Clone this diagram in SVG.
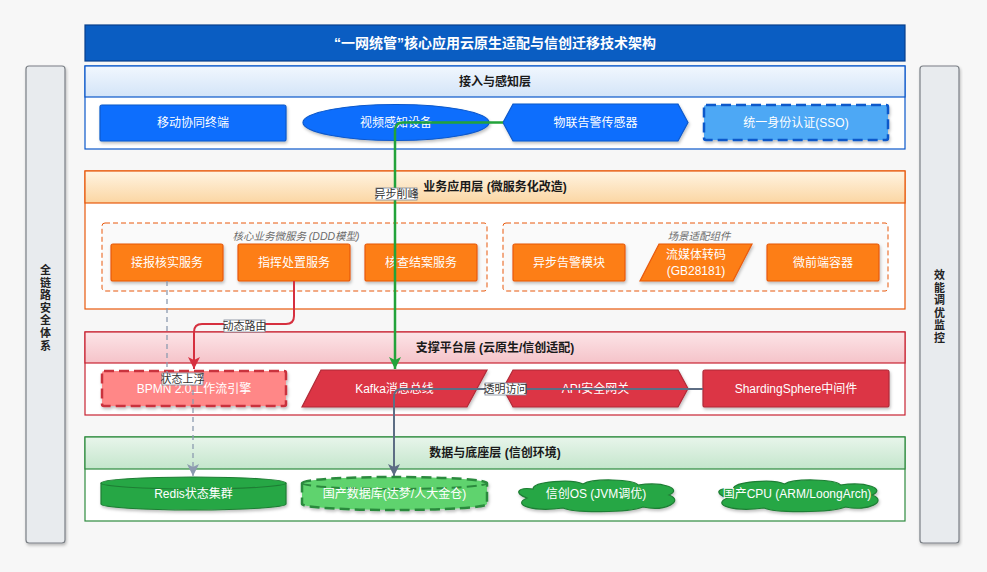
<svg xmlns="http://www.w3.org/2000/svg" width="987" height="572" viewBox="0 0 987 572">
<defs>
<linearGradient id="gBlue" x1="0" y1="0" x2="0" y2="1"><stop offset="0" stop-color="#f1f7fe"/><stop offset="1" stop-color="#d3e4f8"/></linearGradient>
<linearGradient id="gOrange" x1="0" y1="0" x2="0" y2="1"><stop offset="0" stop-color="#fff4e2"/><stop offset="1" stop-color="#fbd6a3"/></linearGradient>
<linearGradient id="gRed" x1="0" y1="0" x2="0" y2="1"><stop offset="0" stop-color="#fce4e7"/><stop offset="1" stop-color="#f5c3c9"/></linearGradient>
<linearGradient id="gGreen" x1="0" y1="0" x2="0" y2="1"><stop offset="0" stop-color="#e8f5eb"/><stop offset="1" stop-color="#c4e6cc"/></linearGradient>
<filter id="sh" x="-10%" y="-20%" width="120%" height="150%"><feDropShadow dx="1" dy="2" stdDeviation="1.5" flood-color="#000" flood-opacity="0.25"/></filter>
<marker id="aGreen" markerWidth="14" markerHeight="12" refX="12" refY="6" orient="auto" markerUnits="userSpaceOnUse"><path d="M0,0 L12,6 L0,12 L3,6 Z" fill="#22a33a"/></marker>
<marker id="aRed" markerWidth="14" markerHeight="12" refX="12" refY="6" orient="auto" markerUnits="userSpaceOnUse"><path d="M0,0 L12,6 L0,12 L3,6 Z" fill="#d6303f"/></marker>
<marker id="aGray" markerWidth="14" markerHeight="12" refX="12" refY="6" orient="auto" markerUnits="userSpaceOnUse"><path d="M0,0 L12,6 L0,12 L3,6 Z" fill="#8d9bb0"/></marker>
<marker id="aSlate" markerWidth="14" markerHeight="12" refX="12" refY="6" orient="auto" markerUnits="userSpaceOnUse"><path d="M0,0 L12,6 L0,12 L3,6 Z" fill="#5d6d84"/></marker>
</defs>
<style>
text{font-family:"Liberation Sans","Noto Sans CJK SC",sans-serif;}
.nt{fill:#fff;font-size:12px;text-anchor:middle;dominant-baseline:central;}
.hd{fill:#1a1a1a;font-size:12px;font-weight:bold;text-anchor:middle;dominant-baseline:central;}
.side{fill:#e8ebee;stroke:#7a7f85;stroke-width:1.2;}
.st{fill:#222;font-size:11px;font-weight:bold;text-anchor:middle;}
.body{fill:#fff;}
.blue{fill:#0d6efd;stroke:#0a58ca;stroke-width:1.2;}
.org{fill:#fd7e14;stroke:#e8590c;stroke-width:1.2;}
.red{fill:#dc3545;stroke:#b02a37;stroke-width:1.2;}
.grn{fill:#28a745;stroke:#1e7e34;stroke-width:1.2;}
.grp{fill:#fafafa;stroke:#e8590c;stroke-width:1;stroke-dasharray:5 3;}
.gl{fill:#6b6b6b;font-size:10.5px;font-style:italic;text-anchor:middle;dominant-baseline:central;}
.el{fill:#333;font-size:11px;text-anchor:middle;dominant-baseline:central;}
.lb{fill:#fff;stroke:#7d8797;stroke-width:0.8;}
</style>
<rect x="0" y="0" width="987" height="572" fill="#f7f7f7"/>

<g id="title">
<rect x="85" y="25" width="820" height="36" fill="#0a5dc2" stroke="#073f8c" stroke-width="1.2"/>
<text x="495" y="43" fill="#fff" font-size="14" font-weight="bold" text-anchor="middle" dominant-baseline="central">“一网统管”核心应用云原生适配与信创迁移技术架构</text>
</g>

<g id="security">
<rect class="side" x="26" y="66" width="39" height="477" rx="3" filter="url(#sh)"/>
<text class="st" x="45.5" y="274"><tspan x="45.5">全</tspan><tspan x="45.5" dy="12.6">链</tspan><tspan x="45.5" dy="12.6">路</tspan><tspan x="45.5" dy="12.6">安</tspan><tspan x="45.5" dy="12.6">全</tspan><tspan x="45.5" dy="12.6">体</tspan><tspan x="45.5" dy="12.6">系</tspan></text>
</g>
<g id="monitor">
<rect class="side" x="920" y="66" width="39" height="477" rx="3" filter="url(#sh)"/>
<text class="st" x="939.5" y="279"><tspan x="939.5">效</tspan><tspan x="939.5" dy="12.6">能</tspan><tspan x="939.5" dy="12.6">调</tspan><tspan x="939.5" dy="12.6">优</tspan><tspan x="939.5" dy="12.6">监</tspan><tspan x="939.5" dy="12.6">控</tspan></text>
</g>

<g id="layer-access">
<rect class="body" x="85" y="66" width="820" height="83" stroke="#0a58ca" stroke-width="1.2"/>
<rect x="85" y="66" width="820" height="31" fill="url(#gBlue)" stroke="#0a58ca" stroke-width="1.2"/>
<text class="hd" x="495" y="81.5">接入与感知层</text>
</g>
<g id="layer-app">
<rect class="body" x="85" y="171" width="820" height="138" stroke="#e8590c" stroke-width="1.2"/>
<rect x="85" y="171" width="820" height="32" fill="url(#gOrange)" stroke="#e8590c" stroke-width="1.2"/>
<text class="hd" x="495" y="187">业务应用层 (微服务化改造)</text>
</g>
<g id="layer-platform">
<rect class="body" x="85" y="332" width="820" height="83" stroke="#c82333" stroke-width="1.2"/>
<rect x="85" y="332" width="820" height="31" fill="url(#gRed)" stroke="#c82333" stroke-width="1.2"/>
<text class="hd" x="495" y="347.5">支撑平台层 (云原生/信创适配)</text>
</g>
<g id="layer-data">
<rect class="body" x="85" y="437" width="820" height="84" stroke="#2e8b3e" stroke-width="1.2"/>
<rect x="85" y="437" width="820" height="32" fill="url(#gGreen)" stroke="#2e8b3e" stroke-width="1.2"/>
<text class="hd" x="495" y="453">数据与底座层 (信创环境)</text>
</g>

<g id="group-core">
<rect class="grp" x="102" y="223" width="385" height="68" rx="3"/>
<text class="gl" x="296" y="236">核心业务微服务 (DDD模型)</text>
</g>
<g id="group-scene">
<rect class="grp" x="503" y="223" width="385" height="68" rx="3"/>
<text class="gl" x="699" y="236">场景适配组件</text>
</g>

<g id="n-mobile"><rect class="blue" x="100" y="105" width="186" height="36" rx="2" filter="url(#sh)"/><text class="nt" x="193" y="123">移动协同终端</text></g>
<g id="n-video"><ellipse class="blue" cx="396" cy="122.5" rx="93" ry="18" filter="url(#sh)"/><text class="nt" x="396" y="123">视频感知设备</text></g>
<g id="n-iot"><polygon class="blue" points="513,104 678,104 688,122.5 678,141 513,141 503,122.5" filter="url(#sh)"/><text class="nt" x="595.5" y="123">物联告警传感器</text></g>
<g id="n-sso"><rect x="704" y="105" width="184" height="35" rx="2" fill="#4ea8f5" stroke="#0a58ca" stroke-width="2.5" stroke-dasharray="10 5" filter="url(#sh)"/><text class="nt" x="796" y="123">统一身份认证(SSO)</text></g>

<g id="n-report"><rect class="org" x="111" y="244" width="112" height="37" rx="2" filter="url(#sh)"/><text class="nt" x="167" y="262.5">接报核实服务</text></g>
<g id="n-command"><rect class="org" x="238" y="244" width="112" height="37" rx="2" filter="url(#sh)"/><text class="nt" x="294" y="262.5">指挥处置服务</text></g>
<g id="n-check"><rect class="org" x="365" y="244" width="112" height="37" rx="2" filter="url(#sh)"/><text class="nt" x="421" y="262.5">核查结案服务</text></g>
<g id="n-alarm"><rect class="org" x="513" y="244" width="112" height="37" rx="2" filter="url(#sh)"/><text class="nt" x="569" y="262.5">异步告警模块</text></g>
<g id="n-stream"><polygon class="org" points="659,244 752,244 733,281 640,281" filter="url(#sh)"/><text class="nt" x="696" y="255">流媒体转码</text><text class="nt" x="696" y="271">(GB28181)</text></g>
<g id="n-micro"><rect class="org" x="767" y="244" width="112" height="37" rx="2" filter="url(#sh)"/><text class="nt" x="823" y="262.5">微前端容器</text></g>

<g id="n-bpmn"><rect x="102" y="371" width="184" height="35" rx="2" fill="#ff8787" stroke="#c9303e" stroke-width="2.5" stroke-dasharray="10 5" filter="url(#sh)"/><text class="nt" x="194" y="389">BPMN 2.0工作流引擎</text></g>
<g id="n-kafka"><polygon class="red" points="321,370 487,370 467,407 302,407" filter="url(#sh)"/><text class="nt" x="394.5" y="389">Kafka消息总线</text></g>
<g id="n-api"><polygon class="red" points="513,370 678,370 688,388.5 678,407 513,407 503,388.5" filter="url(#sh)"/><text class="nt" x="595.5" y="389">API安全网关</text></g>
<g id="n-sharding"><rect class="red" x="703" y="370" width="186" height="37" rx="2" filter="url(#sh)"/><text class="nt" x="796" y="389">ShardingSphere中间件</text></g>

<g id="n-redis"><path class="grn" d="M101,483 A92.5,6 0 0 1 286,483 L286,504 A92.5,6 0 0 1 101,504 Z" filter="url(#sh)"/><path d="M101,483 A92.5,6 0 0 0 286,483" fill="none" stroke="#1e7e34" stroke-width="1.2"/><text class="nt" x="193.5" y="494">Redis状态集群</text></g>
<g id="n-db"><path d="M302,483 A92.5,6 0 0 1 487,483 L487,504 A92.5,6 0 0 1 302,504 Z" fill="#5fd36e" stroke="#2b8a3e" stroke-width="2.5" stroke-dasharray="10 5" filter="url(#sh)"/><path d="M302,483 A92.5,6 0 0 0 487,483" fill="none" stroke="#2b8a3e" stroke-width="2" stroke-dasharray="10 5"/><text class="nt" x="394.5" y="494">国产数据库(达梦/人大金仓)</text></g>
<g id="n-os"><path class="grn" transform="translate(513,479)" d="M20,10 C20,2 60,0 70,5 C80,-1 120,0 125,6 C150,2 170,10 156,16 C172,22 152,33 130,28 C115,34 60,34 50,29 C20,33 -2,26 14,19 C0,14 5,8 20,10 Z" filter="url(#sh)"/><text class="nt" x="596" y="494">信创OS (JVM调优)</text></g>
<g id="n-cpu"><path class="grn" transform="translate(713,479) scale(1.02,1)" d="M20,10 C20,2 60,0 70,5 C80,-1 120,0 125,6 C150,2 170,10 156,16 C172,22 152,33 130,28 C115,34 60,34 50,29 C20,33 -2,26 14,19 C0,14 5,8 20,10 Z" filter="url(#sh)"/><text class="nt" x="797" y="494">国产CPU (ARM/LoongArch)</text></g>

<g id="connectors" fill="none">
<path d="M503,122.5 L403,122.5 Q395,122.5 395,130.5 L395,369" stroke="#22a33a" stroke-width="2.5" marker-end="url(#aGreen)"/>
<path d="M294,281 L294,316 Q294,324 286,324 L202,324 Q194,324 194,332 L194,369" stroke="#d6303f" stroke-width="2" marker-end="url(#aRed)"/>
<path d="M167,281 L167,379 L193,379 L193,476" stroke="#8d9bb0" stroke-width="1.3" stroke-dasharray="5 4" marker-end="url(#aGray)"/>
<path d="M703,389 L402,389 Q394,389 394,397 L394,476" stroke="#5d6d84" stroke-width="2" marker-end="url(#aSlate)"/>
<rect class="lb" x="376" y="188" width="41" height="12"/><text class="el" x="396.5" y="194">异步削峰</text>
<rect class="lb" x="224" y="320" width="41" height="12"/><text class="el" x="244.5" y="326">动态路由</text>
<rect class="lb" x="162" y="373" width="41" height="12"/><text class="el" x="182.5" y="379">状态上浮</text>
<rect class="lb" x="485" y="383" width="41" height="12"/><text class="el" x="505.5" y="389">透明访问</text>
</g>
</svg>
